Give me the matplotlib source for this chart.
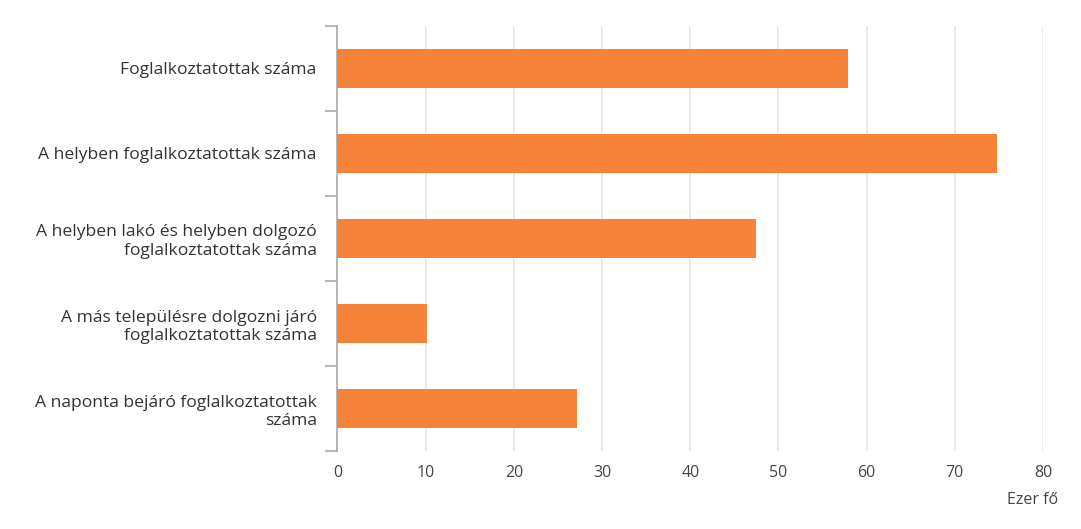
import matplotlib
matplotlib.use("Agg")
import matplotlib.pyplot as plt
import numpy as np

categories = [
    "Foglalkoztatottak száma",
    "A helyben foglalkoztatottak száma",
    "A helyben lakó és helyben dolgozó\nfoglalkoztatottak száma",
    "A más településre dolgozni járó\nfoglalkoztatottak száma",
    "A naponta bejáró foglalkoztatottak\nszáma",
]
values = [57.9, 74.8, 47.4, 10.2, 27.2]
xticks = [0, 10, 20, 30, 40, 50, 60, 70, 80]
unit_label = "Ezer fő"

plt.rcParams['font.family'] = ['Open Sans', 'DejaVu Sans']
text_color = "#333333"

fig = plt.figure(figsize=(10.81, 5.29), dpi=100)
ax = fig.add_axes([0.3122, 0.1474, 0.6527, 0.8035])

y = np.arange(len(categories))
ax.barh(y, values, height=0.47, color="#F5843A", zorder=3)

ax.set_xlim(0, 80)
ax.set_ylim(len(categories) - 0.5, -0.5)
ax.set_xticks(xticks)
ax.set_xticklabels([str(t) for t in xticks], fontsize=11.5, color="#444444")
ax.tick_params(axis='x', length=0, pad=10)
ax.xaxis.grid(True, color="#e6e6e6", linewidth=1.2, zorder=0)

ax.set_yticks(np.arange(-0.5, len(categories), 1.0))
ax.set_yticklabels([])
ax.set_yticks(y, minor=True)
ax.set_yticklabels(categories, minor=True, fontsize=12.6, color=text_color, ha='right',
                   linespacing=1.2)
ax.tick_params(axis='y', which='major', length=9, color="#aaaaaa", width=1.2)
ax.tick_params(axis='y', which='minor', length=0, pad=15)

for s in ['top', 'right', 'bottom']:
    ax.spines[s].set_visible(False)
ax.spines['left'].set_color("#aaaaaa")
ax.spines['left'].set_linewidth(1.2)

fig.text(1058 / 1081, 1 - 500 / 529, unit_label, ha='right', va='center',
         fontsize=11.5, color="#444444")

fig.savefig("out.png", dpi=100)
